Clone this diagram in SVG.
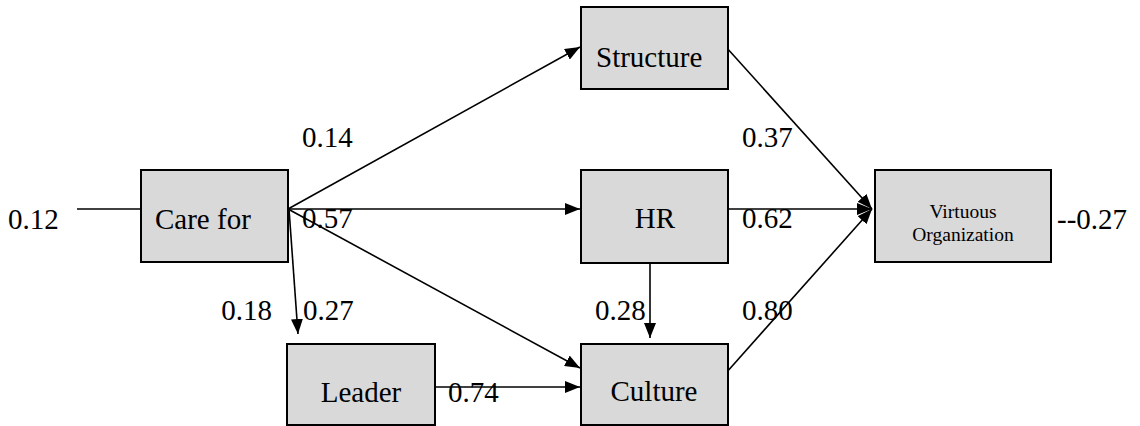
<svg xmlns="http://www.w3.org/2000/svg" width="1140" height="426" viewBox="0 0 1140 426">
<style>
.box{fill:#d9d9d9;stroke:#000;stroke-width:2}
.lbl{font-family:'Liberation Serif',serif;font-size:29px;fill:#000}
.sm{font-family:'Liberation Serif',serif;font-size:19.5px;fill:#000}
.c{stroke:#000;stroke-width:1.6;fill:none}
.a{marker-end:url(#ah)}
</style>
<defs>
<marker id="ah" markerWidth="15" markerHeight="12" refX="15" refY="6" orient="auto" markerUnits="userSpaceOnUse">
<path d="M0,0 L15,6 L0,12 Z" fill="#000"/>
</marker>
</defs>
<rect width="1140" height="426" fill="#fff"/>
<g id="connectors">
<line class="c" x1="77" y1="209" x2="141" y2="209"/>
<line class="c a" x1="288" y1="209" x2="580" y2="47"/>
<line class="c a" x1="288" y1="209" x2="580" y2="209"/>
<line class="c a" x1="288" y1="209" x2="580" y2="368"/>
<line class="c a" x1="289" y1="209" x2="298" y2="334"/>
<line class="c a" x1="433" y1="387" x2="580" y2="387"/>
<line class="c a" x1="650" y1="263" x2="650" y2="338"/>
<line class="c a" x1="726" y1="47" x2="872" y2="209"/>
<line class="c a" x1="726" y1="209" x2="872" y2="209"/>
<line class="c a" x1="726" y1="373" x2="872" y2="209"/>
</g>
<g id="node-carefor">
<rect class="box" x="141" y="170" width="147" height="92"/>
<text class="lbl" x="155" y="229">Care for</text>
</g>
<g id="node-structure">
<rect class="box" x="581" y="7" width="147" height="82"/>
<text class="lbl" x="596" y="67">Structure</text>
</g>
<g id="node-hr">
<rect class="box" x="581" y="170" width="147" height="93"/>
<text class="lbl" x="655" y="228" text-anchor="middle">HR</text>
</g>
<g id="node-culture">
<rect class="box" x="581" y="344" width="147" height="81"/>
<text class="lbl" x="654" y="401" text-anchor="middle">Culture</text>
</g>
<g id="node-leader">
<rect class="box" x="287" y="344" width="148" height="81"/>
<text class="lbl" x="361" y="402" text-anchor="middle">Leader</text>
</g>
<g id="node-virtuous">
<rect class="box" x="875" y="170" width="176" height="92"/>
<text class="sm" x="963" y="218" text-anchor="middle">Virtuous</text>
<text class="sm" x="963" y="241" text-anchor="middle">Organization</text>
</g>
<g id="labels">
<text class="lbl" x="8" y="229">0.12</text>
<text class="lbl" x="1057" y="229">--0.27</text>
<text class="lbl" x="302" y="147">0.14</text>
<text class="lbl" x="302" y="228">0.57</text>
<text class="lbl" x="272" y="320" text-anchor="end">0.18</text>
<text class="lbl" x="303" y="320">0.27</text>
<text class="lbl" x="448" y="402">0.74</text>
<text class="lbl" x="742" y="147">0.37</text>
<text class="lbl" x="742" y="228">0.62</text>
<text class="lbl" x="595" y="320">0.28</text>
<text class="lbl" x="742" y="320">0.80</text>
</g>
</svg>
